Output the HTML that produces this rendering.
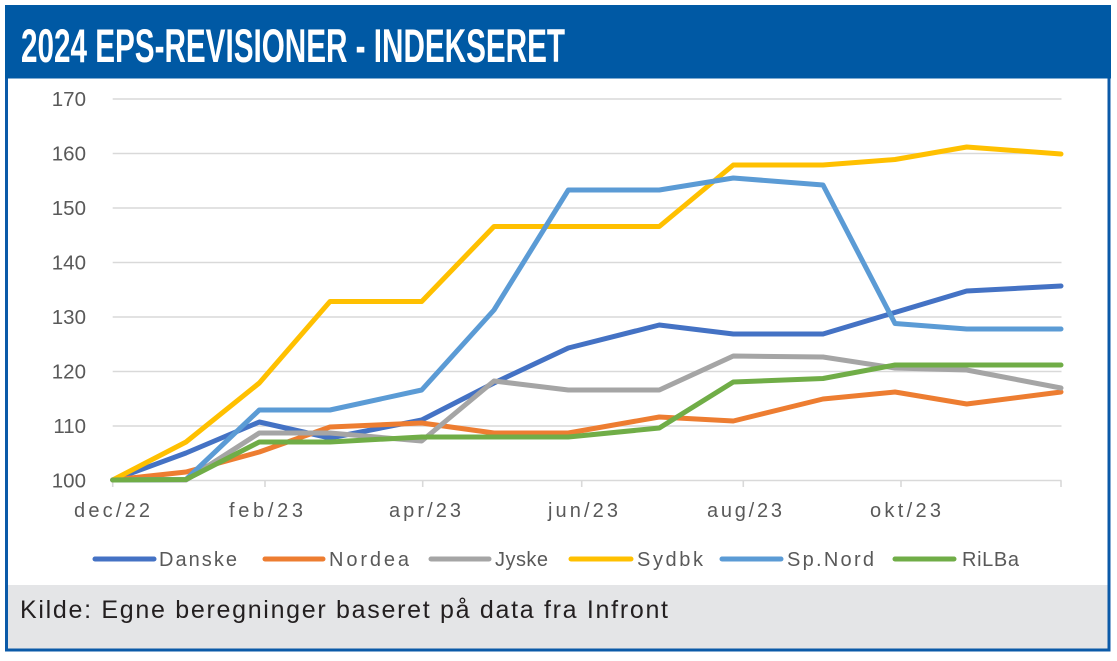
<!DOCTYPE html>
<html>
<head>
<meta charset="utf-8">
<style>
html,body{margin:0;padding:0;background:#fff;}
body{width:1117px;height:661px;overflow:hidden;}
svg{display:block;}
</style>
</head>
<body>
<svg width="1117" height="661" viewBox="0 0 1117 661" xmlns="http://www.w3.org/2000/svg">
  <rect x="0" y="0" width="1117" height="661" fill="#ffffff"/>
  <!-- footer band -->
  <rect x="6" y="585" width="1103" height="65" fill="#e4e5e7"/>
  <!-- border -->
  <rect x="6.5" y="6.5" width="1102.5" height="643.5" fill="none" stroke="#0b5aa8" stroke-width="3"/>
  <!-- header -->
  <rect x="5" y="5" width="1106" height="73.5" fill="#0059a4"/>
  <text x="21" y="62" font-family="'Liberation Sans Narrow','Liberation Sans',sans-serif" font-weight="bold" font-size="47" fill="#ffffff" textLength="544" lengthAdjust="spacingAndGlyphs">2024 EPS-REVISIONER - INDEKSERET</text>

  <!-- gridlines -->
  <g stroke="#d9d9d9" stroke-width="1.6">
    <line x1="112.7" y1="99" x2="1061.5" y2="99"/>
    <line x1="112.7" y1="153.5" x2="1061.5" y2="153.5"/>
    <line x1="112.7" y1="208" x2="1061.5" y2="208"/>
    <line x1="112.7" y1="262.5" x2="1061.5" y2="262.5"/>
    <line x1="112.7" y1="317" x2="1061.5" y2="317"/>
    <line x1="112.7" y1="371.5" x2="1061.5" y2="371.5"/>
    <line x1="112.7" y1="426" x2="1061.5" y2="426"/>
    <line x1="112.7" y1="480.5" x2="1061.5" y2="480.5"/>
  </g>
  <!-- ticks -->
  <g stroke="#d9d9d9" stroke-width="1.6">
    <line x1="112.7" y1="480.5" x2="112.7" y2="487"/>
    <line x1="265" y1="480.5" x2="265" y2="487"/>
    <line x1="422.7" y1="480.5" x2="422.7" y2="487"/>
    <line x1="581.7" y1="480.5" x2="581.7" y2="487"/>
    <line x1="743.3" y1="480.5" x2="743.3" y2="487"/>
    <line x1="901" y1="480.5" x2="901" y2="487"/>
    <line x1="1061" y1="480.5" x2="1061" y2="487"/>
  </g>

  <!-- y labels -->
  <g font-family="'Liberation Sans',sans-serif" font-size="20.5" fill="#595959" text-anchor="end">
    <text x="86" y="106">170</text>
    <text x="86" y="160.5">160</text>
    <text x="86" y="215">150</text>
    <text x="86" y="269.5">140</text>
    <text x="86" y="324">130</text>
    <text x="86" y="378.5">120</text>
    <text x="86" y="433">110</text>
    <text x="86" y="487.5">100</text>
  </g>

  <!-- x labels -->
  <g font-family="'Liberation Sans',sans-serif" font-size="20" fill="#595959">
    <text x="74" y="517" textLength="76" lengthAdjust="spacing">dec/22</text>
    <text x="229" y="517" textLength="74" lengthAdjust="spacing">feb/23</text>
    <text x="389" y="517" textLength="72" lengthAdjust="spacing">apr/23</text>
    <text x="548" y="517" textLength="70" lengthAdjust="spacing">jun/23</text>
    <text x="707" y="517" textLength="75" lengthAdjust="spacing">aug/23</text>
    <text x="870" y="517" textLength="71" lengthAdjust="spacing">okt/23</text>
  </g>

  <!-- series -->
  <g fill="none" stroke-width="5" stroke-linejoin="round" stroke-linecap="round">
    <polyline stroke="#4472c4" points="112.7,480 186,453 259.3,422 330,438 421.7,420 494,383 568.3,348 659.3,325 733.3,334 823,334 966.7,291 1061,286"/>
    <polyline stroke="#ed7d31" points="112.7,480 186,472 259.3,452 330,427 421.7,423 494,433 568.3,433 659.3,417 733.3,421 823,399 895,392 966.7,404 1061,392"/>
    <polyline stroke="#a5a5a5" points="112.7,480 186,480 259.3,433 330,433 421.7,441 494,381 568.3,390 659.3,390 733.3,356 823,357 895,368 966.7,370 1061,388"/>
    <polyline stroke="#ffc000" points="112.7,480 186,442 259.3,383 330,301.5 421.7,301.5 494,226.5 568.3,226.5 659.3,226.5 733.3,165 823,165 895,159.5 966.7,147 1061,154"/>
    <polyline stroke="#5b9bd5" points="112.7,480 186,479.5 259.3,410 330,410 421.7,390 494,310 568.3,190 659.3,190 733.3,178 823,185 895,323.5 966.7,329 1061,329"/>
    <polyline stroke="#70ad47" points="112.7,480 186,479.5 259.3,442 330,442 421.7,437 494,437 568.3,437 659.3,428 733.3,382 823,378.5 895,365 966.7,365 1061,365"/>
  </g>

  <!-- legend -->
  <g stroke-width="5" stroke-linecap="round">
    <line x1="95" y1="559" x2="154" y2="559" stroke="#4472c4"/>
    <line x1="265" y1="559" x2="323" y2="559" stroke="#ed7d31"/>
    <line x1="431" y1="559" x2="489" y2="559" stroke="#a5a5a5"/>
    <line x1="571" y1="559" x2="631" y2="559" stroke="#ffc000"/>
    <line x1="722" y1="559" x2="781" y2="559" stroke="#5b9bd5"/>
    <line x1="895" y1="559" x2="954" y2="559" stroke="#70ad47"/>
  </g>
  <g font-family="'Liberation Sans',sans-serif" font-size="20" fill="#595959">
    <text x="159" y="566" textLength="78" lengthAdjust="spacing">Danske</text>
    <text x="329" y="566" textLength="80" lengthAdjust="spacing">Nordea</text>
    <text x="495" y="566" textLength="53" lengthAdjust="spacing">Jyske</text>
    <text x="637" y="566" textLength="66" lengthAdjust="spacing">Sydbk</text>
    <text x="787" y="566" textLength="87" lengthAdjust="spacing">Sp.Nord</text>
    <text x="962" y="566" textLength="57" lengthAdjust="spacing">RiLBa</text>
  </g>

  <!-- footer text -->
  <text x="20" y="618" font-family="'Liberation Sans',sans-serif" font-size="25" fill="#231f20" textLength="648" lengthAdjust="spacing">Kilde: Egne beregninger baseret på data fra Infront</text>
</svg>
</body>
</html>
